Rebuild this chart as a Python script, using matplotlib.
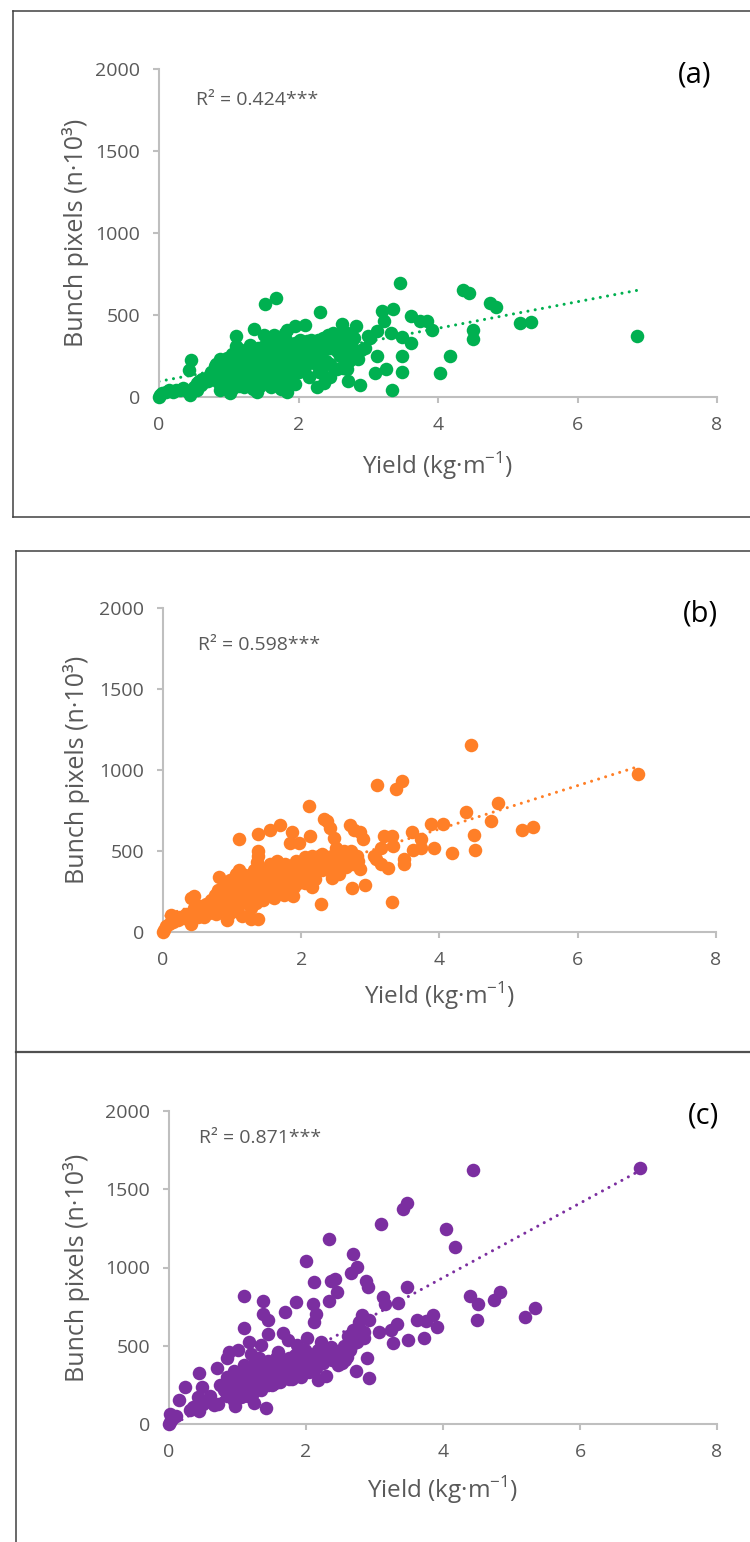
import matplotlib

matplotlib.use("Agg")
import matplotlib.pyplot as plt
from matplotlib.lines import Line2D
import numpy as np

plt.rcParams["font.family"] = ["Open Sans", "DejaVu Sans"]

# ---- panel (a): yield (kg/m) vs bunch pixels (n*10^3), green ----
yield_a = [
    0, 0.02, 0.05, 0.1, 0.15, 0.2, 0.25, 0.3, 0.35, 0.4,
    0.45, 0.43, 0.46, 0.5, 0.54, 0.55, 0.58, 0.6, 0.62, 0.65,
    0.7, 0.72, 0.75, 0.78, 0.8, 0.82, 0.85, 0.87, 0.88, 0.9,
    0.92, 0.95, 0.97, 1.0, 1.0, 1.02, 1.05, 1.05, 1.08, 1.1,
    1.1, 1.12, 1.15, 1.15, 1.18, 1.2, 1.2, 1.22, 1.25, 1.25,
    1.28, 1.3, 1.3, 1.32, 1.35, 1.36, 1.38, 1.4, 1.4, 1.42,
    1.45, 1.45, 1.48, 1.5, 1.5, 1.52, 1.52, 1.55, 1.55, 1.58,
    1.6, 1.6, 1.62, 1.65, 1.65, 1.68, 1.68, 1.7, 1.7, 1.72,
    1.75, 1.75, 1.78, 1.8, 1.8, 1.82, 1.83, 1.84, 1.85, 1.88,
    1.9, 1.9, 1.92, 1.95, 1.95, 1.98, 2.0, 2.0, 2.02, 2.05,
    2.05, 2.08, 2.09, 2.1, 2.12, 2.15, 2.15, 2.18, 2.2, 2.2,
    2.22, 2.25, 2.26, 2.28, 2.3, 2.31, 2.32, 2.33, 2.35, 2.36,
    2.38, 2.4, 2.42, 2.45, 2.45, 2.48, 2.5, 2.52, 2.55, 2.58,
    2.6, 2.63, 2.64, 2.65, 2.68, 2.7, 2.71, 2.72, 2.75, 2.78,
    2.8, 2.83, 2.85, 2.88, 2.9, 2.95, 3.0, 3.03, 3.12, 3.22,
    3.12, 3.1, 3.26, 3.34, 3.33, 3.2, 3.36, 3.46, 3.48, 3.48,
    3.48, 3.61, 3.61, 3.74, 3.84, 3.92, 4.03, 4.17, 4.36, 4.45,
    4.5, 4.5, 4.74, 4.83, 5.17, 5.34, 6.86,
    0.85, 0.95, 1.05, 1.15, 1.25, 1.35, 1.45, 1.55, 1.6, 1.7,
    1.75, 1.85, 1.9, 1.95, 2.0, 2.1, 2.15, 2.25, 2.3, 2.4,
    2.45, 2.55, 2.6, 2.7, 2.75, 1.3, 1.4, 1.5, 1.65, 1.8,
]
pixels_a = [
    0, 10, 25, 30, 40, 30, 45, 40, 55, 35,
    15, 165, 225, 60, 45, 85, 95, 75, 110, 90,
    100, 130, 150, 120, 190, 200, 160, 45, 230, 180,
    110, 140, 240, 120, 200, 25, 260, 160, 90, 370,
    310, 230, 290, 120, 200, 160, 250, 60, 200, 280,
    130, 180, 240, 90, 260, 413, 140, 32, 220, 300,
    180, 250, 110, 310, 200, 567, 140, 260, 330, 90,
    230, 290, 180, 250, 120, 602, 310, 200, 280, 150,
    240, 330, 90, 270, 190, 350, 32, 408, 150, 220,
    300, 260, 180, 433, 330, 250, 290, 210, 350, 270,
    320, 230, 439, 300, 340, 260, 310, 350, 280, 240,
    330, 300, 59, 350, 270, 520, 320, 175, 360, 83,
    290, 340, 380, 124, 300, 350, 390, 330, 280, 370,
    250, 443, 175, 340, 300, 390, 99, 220, 320, 260,
    360, 433, 230, 73, 287, 300, 370, 361, 402, 464,
    247, 144, 171, 41, 392, 526, 536, 695, 247, 150,
    365, 330, 495, 464, 464, 406, 144, 247, 650, 635,
    406, 355, 571, 550, 450, 460, 371,
    90, 60, 50, 70, 110, 50, 70, 160, 60, 110,
    50, 100, 130, 80, 150, 180, 120, 200, 150, 220,
    200, 170, 300, 170, 230, 320, 290, 380, 380, 390,
]

# ---- panel (b), orange ----
yield_b = [
    0, 0.02, 0.04, 0.08, 0.12, 0.15, 0.18, 0.22, 0.25, 0.3,
    0.33, 0.38, 0.41, 0.41, 0.45, 0.45, 0.48, 0.5, 0.53, 0.56,
    0.6, 0.62, 0.66, 0.7, 0.72, 0.75, 0.77, 0.8, 0.81, 0.83,
    0.86, 0.88, 0.9, 0.93, 0.93, 0.95, 0.97, 0.99, 1.0, 1.02,
    1.04, 1.05, 1.08, 1.1, 1.1, 1.12, 1.14, 1.16, 1.18, 1.2,
    1.22, 1.25, 1.27, 1.28, 1.3, 1.32, 1.34, 1.36, 1.37, 1.38,
    1.38, 1.38, 1.4, 1.42, 1.44, 1.46, 1.48, 1.5, 1.52, 1.55,
    1.55, 1.57, 1.6, 1.6, 1.62, 1.65, 1.67, 1.69, 1.7, 1.72,
    1.74, 1.76, 1.78, 1.8, 1.82, 1.84, 1.85, 1.87, 1.88, 1.9,
    1.92, 1.95, 1.97, 1.98, 2.0, 2.02, 2.05, 2.07, 2.1, 2.11,
    2.12, 2.13, 2.15, 2.15, 2.18, 2.2, 2.22, 2.25, 2.28, 2.28,
    2.3, 2.33, 2.35, 2.37, 2.38, 2.4, 2.42, 2.45, 2.45, 2.48,
    2.5, 2.52, 2.55, 2.58, 2.6, 2.62, 2.65, 2.68, 2.7, 2.72,
    2.73, 2.75, 2.77, 2.8, 2.82, 2.85, 2.85, 2.9, 2.92, 3.05,
    3.08, 3.09, 3.15, 3.15, 3.2, 3.26, 3.32, 3.32, 3.33, 3.37,
    3.46, 3.48, 3.49, 3.6, 3.61, 3.73, 3.73, 3.87, 3.92, 4.05,
    4.18, 4.39, 4.45, 4.5, 4.51, 4.74, 4.84, 5.19, 5.35, 6.87,
    0.95, 1.05, 1.15, 1.25, 1.35, 1.45, 1.5, 1.58, 1.65, 1.7,
    1.75, 1.8, 1.85, 1.9, 1.95, 2.0, 2.05, 2.1, 2.2, 2.3,
]
pixels_b = [
    0, 15, 35, 50, 105, 60, 90, 75, 95, 85,
    110, 90, 52, 209, 225, 150, 120, 95, 160, 130,
    90, 170, 120, 200, 150, 230, 110, 260, 340, 190,
    240, 160, 290, 73, 220, 180, 320, 250, 140, 300,
    210, 360, 270, 577, 380, 170, 320, 240, 350, 200,
    290, 330, 150, 83, 260, 380, 300, 430, 470, 83,
    608, 500, 230, 340, 280, 390, 320, 250, 360, 630,
    420, 300, 210, 380, 330, 440, 270, 663, 390, 350,
    300, 420, 240, 370, 330, 552, 410, 615, 220, 360,
    440, 300, 552, 390, 420, 340, 460, 380, 430, 778,
    594, 350, 277, 470, 410, 450, 380, 470, 173, 430,
    480, 698, 400, 684, 460, 380, 640, 333, 470, 580,
    520, 430, 360, 480, 440, 500, 400, 450, 663, 500,
    271, 420, 630, 470, 440, 615, 389, 573, 292, 470,
    448, 907, 417, 521, 594, 394, 594, 187, 531, 882,
    934, 448, 421, 618, 504, 573, 521, 667, 517, 667,
    490, 740, 1157, 600, 507, 688, 796, 630, 651, 976,
    110, 130, 100, 200, 180, 200, 300, 240, 330, 280,
    230, 300, 260, 280, 350, 320, 300, 360, 330, 380,
]

# ---- panel (c), purple ----
yield_c = [
    0, 0.02, 0.02, 0.05, 0.1, 0.15, 0.23, 0.3, 0.35, 0.42,
    0.44, 0.44, 0.48, 0.5, 0.55, 0.6, 0.65, 0.7, 0.72, 0.75,
    0.8, 0.84, 0.85, 0.88, 0.9, 0.92, 0.95, 0.96, 0.98, 1.0,
    1.01, 1.02, 1.04, 1.06, 1.08, 1.1, 1.1, 1.1, 1.12, 1.14,
    1.16, 1.17, 1.18, 1.2, 1.22, 1.24, 1.25, 1.27, 1.29, 1.31,
    1.32, 1.34, 1.35, 1.37, 1.37, 1.38, 1.4, 1.42, 1.42, 1.44,
    1.45, 1.45, 1.46, 1.48, 1.5, 1.52, 1.54, 1.56, 1.58, 1.59,
    1.6, 1.62, 1.64, 1.66, 1.67, 1.7, 1.7, 1.72, 1.73, 1.75,
    1.77, 1.8, 1.82, 1.84, 1.86, 1.87, 1.88, 1.9, 1.92, 1.95,
    1.97, 1.99, 2.0, 2.01, 2.02, 2.05, 2.07, 2.1, 2.1, 2.12,
    2.12, 2.14, 2.15, 2.17, 2.18, 2.2, 2.22, 2.25, 2.27, 2.29,
    2.3, 2.33, 2.34, 2.36, 2.36, 2.38, 2.4, 2.43, 2.43, 2.45,
    2.47, 2.5, 2.52, 2.55, 2.57, 2.6, 2.62, 2.64, 2.66, 2.68,
    2.69, 2.71, 2.73, 2.75, 2.75, 2.76, 2.78, 2.82, 2.84, 2.85,
    2.87, 2.89, 2.91, 2.92, 2.92, 3.06, 3.1, 3.13, 3.15, 3.24,
    3.27, 3.33, 3.34, 3.41, 3.48, 3.48, 3.49, 3.62, 3.72, 3.75,
    3.86, 3.91, 4.04, 4.18, 4.39, 4.44, 4.49, 4.51, 4.74, 4.83,
    5.19, 5.35, 6.87,
    0.85, 0.95, 1.05, 1.15, 1.25, 1.35, 1.45, 1.55, 1.65, 1.75,
    1.85, 1.95, 2.05, 2.15, 2.25, 2.35, 2.45, 2.55, 2.65, 1.2,
]
pixels_c = [
    0, 11, 63, 30, 50, 152, 236, 90, 110, 173,
    84, 326, 236, 130, 147, 180, 120, 358, 126, 250,
    220, 421, 300, 463, 200, 260, 340, 116, 230, 290,
    474, 200, 330, 250, 180, 815, 615, 380, 290, 220,
    350, 526, 270, 310, 200, 137, 400, 280, 340, 421,
    240, 300, 505, 783, 705, 360, 270, 105, 330, 400,
    663, 573, 300, 360, 250, 380, 330, 420, 290, 463,
    350, 270, 400, 579, 320, 716, 380, 300, 537, 420,
    350, 290, 390, 440, 779, 505, 340, 380, 300, 420,
    360, 470, 1042, 547, 390, 330, 440, 764, 400, 905,
    653, 705, 360, 284, 470, 430, 526, 390, 480, 309,
    450, 789, 1185, 911, 495, 410, 470, 926, 421, 842,
    380, 453, 390, 500, 410, 430, 560, 474, 968, 600,
    1084, 568, 341, 1004, 526, 600, 650, 695, 547, 589,
    916, 421, 878, 663, 295, 589, 1280, 810, 768, 600,
    520, 638, 772, 1372, 1410, 878, 537, 663, 547, 657,
    695, 621, 1248, 1130, 815, 1621, 663, 764, 794, 842,
    684, 743, 1636,
    180, 150, 170, 180, 230, 220, 250, 260, 300, 290,
    320, 330, 380, 410, 430, 450, 420, 440, 500, 450,
]

# linear trend lines: (intercept, slope)
trend_a = (95, 81)
trend_b = (100, 134)
trend_c = (-17, 238)

r2_labels = ["R² = 0.424***", "R² = 0.598***", "R² = 0.871***"]
panel_tags = ["(a)", "(b)", "(c)"]
colors = ["#00B050", "#FF7F27", "#7B2EA0"]

x_ticks = [0, 2, 4, 6, 8]
y_ticks = [0, 500, 1000, 1500, 2000]

W, H = 750, 1542
AXIS_GRAY = "#BFBFBF"
TEXT_GRAY = "#595959"


def px_rect(left, top, right, bottom):
    """pixel box -> figure fraction [l, b, w, h]"""
    return [left / W, 1 - bottom / H, (right - left) / W, (bottom - top) / H]


def draw_panel(ax, xs, ys, color, trend, r2, tag, *, ylab_x, r2_pos, tag_pos, xlab_y):
    assert len(xs) == len(ys)
    ax.scatter(xs, ys, s=95, color=color, linewidths=0, clip_on=False, zorder=3)

    xt = np.array([min(xs), max(xs)])
    ax.plot(xt, trend[0] + trend[1] * xt, color=color, lw=2.2,
            linestyle=(0, (0.01, 2.4)), dash_capstyle="round", zorder=2)

    ax.set_xlim(0, 8)
    ax.set_ylim(0, 2000)
    ax.set_xticks(x_ticks)
    ax.set_yticks(y_ticks)
    for s in ("top", "right"):
        ax.spines[s].set_visible(False)
    for s in ("left", "bottom"):
        ax.spines[s].set_color(AXIS_GRAY)
        ax.spines[s].set_linewidth(1.5)
    ax.tick_params(direction="out", length=4.5, width=1.5, color=AXIS_GRAY,
                   labelcolor=TEXT_GRAY, labelsize=14)
    ax.tick_params(axis="y", pad=9)
    ax.tick_params(axis="x", pad=9)

    ax.set_xlabel("Yield (kg·m$^{\\mathregular{-1}}$)", fontsize=17.5,
                  color=TEXT_GRAY, va="center")
    ax.xaxis.set_label_coords(0.5, xlab_y)
    ax.set_ylabel("Bunch pixels (n·10³)", fontsize=18, color=TEXT_GRAY, va="center")
    ax.yaxis.set_label_coords(ylab_x, 0.5)

    ax.text(r2_pos[0], r2_pos[1], r2, transform=ax.transAxes, fontsize=14,
            color=TEXT_GRAY, ha="left", va="center")
    ax.text(tag_pos[0], tag_pos[1], tag, transform=ax.transAxes, fontsize=21,
            color="black", ha="center", va="center")


fig = plt.figure(figsize=(W / 100, H / 100), dpi=100)

ax_a = fig.add_axes(px_rect(159, 69, 717, 397))
ax_b = fig.add_axes(px_rect(163, 608, 716, 932))
ax_c = fig.add_axes(px_rect(169, 1111, 717, 1424))

draw_panel(ax_a, yield_a, pixels_a, colors[0], trend_a, r2_labels[0], panel_tags[0],
           ylab_x=-0.15, r2_pos=(0.066, 0.905), tag_pos=(0.96, 0.982), xlab_y=-0.21)
draw_panel(ax_b, yield_b, pixels_b, colors[1], trend_b, r2_labels[1], panel_tags[1],
           ylab_x=-0.156, r2_pos=(0.064, 0.886), tag_pos=(0.971, 0.981), xlab_y=-0.198)
draw_panel(ax_c, yield_c, pixels_c, colors[2], trend_c, r2_labels[2], panel_tags[2],
           ylab_x=-0.168, r2_pos=(0.054, 0.914), tag_pos=(0.976, 0.984), xlab_y=-0.211)


def fig_line(x0, y0, x1, y1, lw=1.1, color="#404040"):
    fig.add_artist(Line2D([x0 / W, x1 / W], [1 - y0 / H, 1 - y1 / H],
                          transform=fig.transFigure, color=color, lw=lw))


# frames around the panels
fig_line(13, 11, W + 5, 11)
fig_line(13, 11, 13, 517)
fig_line(13, 517, W + 5, 517)
fig_line(16, 551, W + 5, 551)
fig_line(16, 551, 16, 1052)
fig_line(16, 1052, W + 5, 1052, lw=1.6, color="#505050")
fig_line(16, 1052, 16, H + 5)

fig.savefig("out.png", dpi=100)
plt.close(fig)
